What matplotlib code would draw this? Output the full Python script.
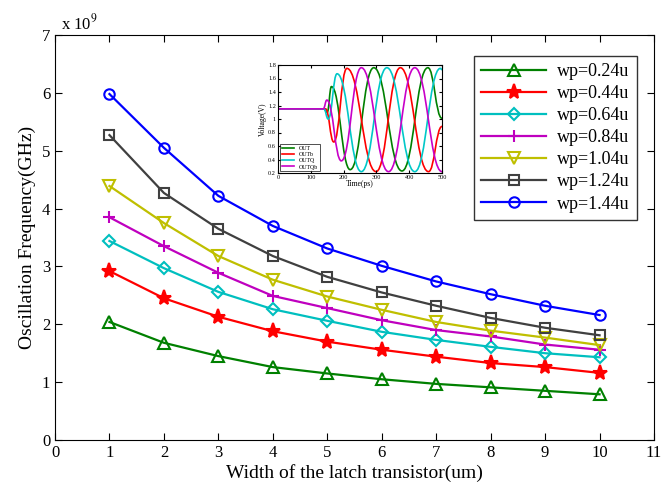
import matplotlib
matplotlib.use("Agg")
import matplotlib.pyplot as plt
from matplotlib.path import Path
from matplotlib.patches import PathPatch

plt.rcParams['font.family'] = ['Liberation Serif', 'DejaVu Serif']
plt.rcParams['mathtext.fontset'] = 'stix'

width = [1, 2, 3, 4, 5, 6, 7, 8, 9, 10]
labels = ['wp=0.24u', 'wp=0.44u', 'wp=0.64u', 'wp=0.84u', 'wp=1.04u', 'wp=1.24u', 'wp=1.44u']
f024 = [2.04, 1.68, 1.45, 1.26, 1.15, 1.05, 0.97, 0.91, 0.85, 0.79]
f044 = [2.92, 2.45, 2.13, 1.88, 1.70, 1.56, 1.44, 1.33, 1.26, 1.16]
f064 = [3.44, 2.97, 2.56, 2.26, 2.06, 1.87, 1.73, 1.61, 1.50, 1.43]
f084 = [3.85, 3.35, 2.89, 2.49, 2.28, 2.07, 1.90, 1.79, 1.65, 1.56]
f104 = [4.39, 3.75, 3.18, 2.77, 2.48, 2.25, 2.04, 1.89, 1.77, 1.64]
f124 = [5.27, 4.27, 3.65, 3.18, 2.82, 2.55, 2.32, 2.11, 1.94, 1.81]
f144 = [5.98, 5.05, 4.22, 3.70, 3.31, 3.01, 2.74, 2.52, 2.32, 2.16]

# inset waveform key points (time ps, voltage V)
out_t = [0, 140, 150, 163, 220, 292, 378, 457, 500]
out_v = [1.15, 1.15, 1.10, 1.48, 0.25, 1.76, 0.23, 1.76, 1.01]
outb_t = [0, 145, 170, 210, 299, 373, 459, 500]
outb_v = [1.15, 1.15, 0.66, 1.75, 0.22, 1.76, 0.22, 0.89]
outq_t = [0, 140, 153, 180, 254, 332, 417, 495, 500]
outq_v = [1.15, 1.15, 1.00, 1.67, 0.22, 1.76, 0.22, 1.75, 1.73]
outqb_t = [0, 138, 149, 193, 254, 337, 417, 500]
outqb_v = [1.15, 1.15, 1.28, 0.38, 1.76, 0.22, 1.76, 0.22]
inset_labels = ['OUT', 'OUTb', 'OUTQ', 'OUTQb']

series = [f024, f044, f064, f084, f104, f124, f144]
colors = ['#008000', '#ff0000', '#00bfbf', '#bf00bf', '#bfbf00', '#404040', '#0000ff']
markers = ['^', '*', 'D', '+', 'v', 's', 'o']
msizes = [8, 11, 6, 8, 8, 7, 7.5]

fig = plt.figure(figsize=(6.65, 4.88), dpi=100)
ax = fig.add_axes([55/665, 1-440/488, (654-55)/665, (440-35)/488])
for s, c, m, ms, lab in zip(series, colors, markers, msizes, labels):
    fc = c if m == '*' else 'none'
    ax.plot(width, s, color=c, lw=1.6, marker=m, ms=ms, mfc=fc, mec=c, mew=1.5, label=lab)

ax.set_xlim(0, 11)
ax.set_ylim(0, 7)
ax.set_xticks(range(0, 12))
ax.set_yticks(range(0, 8))
ax.tick_params(direction='in', top=True, right=True, labelsize=12, length=5)
ax.set_xlabel('Width of the latch transistor(um)', fontsize=14, labelpad=2)
ax.set_ylabel('Oscillation Frequency(GHz)', fontsize=14)
ax.text(0.01, 1.005, r'x 10$^{9}$', transform=ax.transAxes, fontsize=12, ha='left', va='bottom')
leg = ax.legend(loc='upper left', bbox_to_anchor=((474-55)/599, (440-56)/405), fontsize=13,
                frameon=True, fancybox=False, edgecolor='black', handlelength=3.6,
                borderpad=0.4, labelspacing=0.28, handletextpad=0.6, borderaxespad=0)
leg.get_frame().set_linewidth(1.0)

# inset
ia = fig.add_axes([278/665, 1-173/488, 164/665, 108/488])
icolors = ['#008000', '#ff0000', '#00c8c8', '#c800c8']
for tt, vv, c, lab in zip([out_t, outb_t, outq_t, outqb_t], [out_v, outb_v, outq_v, outqb_v], icolors, inset_labels):
    verts = [(tt[0], vv[0])]
    codes = [Path.MOVETO]
    for i in range(1, len(tt)):
        dt = tt[i] - tt[i-1]
        verts += [(tt[i-1] + dt*0.45, vv[i-1]), (tt[i] - dt*0.45, vv[i]), (tt[i], vv[i])]
        codes += [Path.CURVE4]*3
    ia.add_patch(PathPatch(Path(verts, codes), fc='none', ec=c, lw=1.2))
    ia.plot([], [], color=c, lw=1.2, label=lab)
ia.set_xlim(0, 500)
ia.set_ylim(0.2, 1.8)
ia.set_xticks([0, 100, 200, 300, 400, 500])
ia.set_yticks([0.2, 0.4, 0.6, 0.8, 1.0, 1.2, 1.4, 1.6, 1.8])
ia.set_yticklabels(['0.2', '0.4', '0.6', '0.8', '1', '1.2', '1.4', '1.6', '1.8'])
ia.tick_params(direction='in', labelsize=4.5, length=2, pad=1.5, top=True, right=True)
ia.set_xlabel('Time(ps)', fontsize=5.5, labelpad=0)
ia.set_ylabel('Voltage(V)', fontsize=5.5, labelpad=1)
il = ia.legend(loc='lower left', fontsize=4.2, frameon=True, fancybox=False, edgecolor='black',
               handlelength=2.2, borderpad=0.3, labelspacing=0.2, borderaxespad=0.3)
il.get_frame().set_linewidth(0.6)

fig.savefig('out.png', dpi=100)
